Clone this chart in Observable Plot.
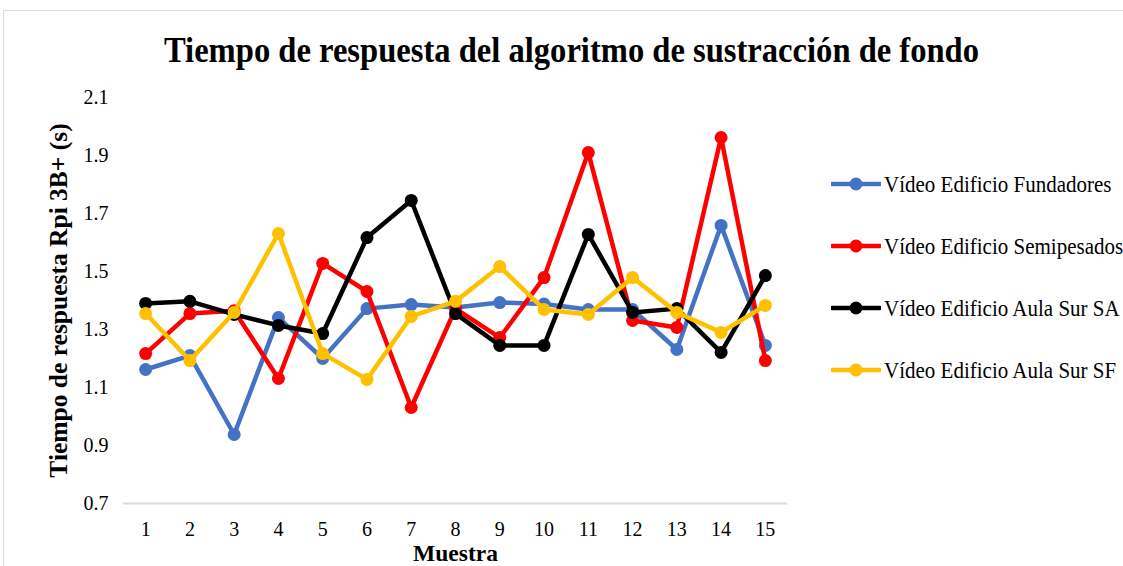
<!DOCTYPE html>
<html><head><meta charset="utf-8">
<script src="https://cdn.jsdelivr.net/npm/d3@7"></script>
<script src="https://cdn.jsdelivr.net/npm/@observablehq/plot@0.6"></script>
<style>
body{margin:0;background:#fff;font-family:"Liberation Serif","Times New Roman",serif;color:#000;}
#frame{position:absolute;left:3px;top:10px;width:1130px;height:570px;border:1px solid #d9d9d9;box-sizing:border-box;}
#title{position:absolute;left:0;width:1143px;top:31px;text-align:center;font-weight:bold;font-size:32.6px;line-height:38px;white-space:nowrap;transform:scaleY(1.12);transform-origin:50% 50%;}
#chart{position:absolute;left:0;top:80px;}
#legend{position:absolute;left:831px;top:170px;}
.item{display:flex;align-items:center;height:28px;margin-bottom:34px;font-size:21px;white-space:nowrap;}
.item span{display:inline-block;transform:scaleY(1.08);}
.item svg{margin-right:3px;}
g[aria-label="x-axis label"] text{font-weight:bold;font-size:23.5px;}
g[aria-label="y-axis label"] text{font-weight:bold;font-size:25.5px;}
</style>
</head><body>
<div id="frame"></div>
<div id="title">Tiempo de respuesta del algoritmo de sustracción de fondo</div>
<div id="chart"></div>
<div id="legend"></div>
<script>
const samples = [1,2,3,4,5,6,7,8,9,10,11,12,13,14,15];
const seriesNames = ["Vídeo Edificio Fundadores","Vídeo Edificio Semipesados","Vídeo Edificio Aula Sur SA","Vídeo Edificio Aula Sur SF"];
const seriesColors = ["#4472C4","#FF0000","#000000","#FFC000"];
const fundadores  = [1.162,1.21,0.938,1.341,1.200,1.372,1.386,1.376,1.393,1.388,1.369,1.369,1.231,1.659,1.245];
const semipesados = [1.217,1.355,1.365,1.131,1.528,1.431,1.031,1.372,1.272,1.479,1.910,1.331,1.307,1.962,1.193];
const aulaSurSA   = [1.390,1.397,1.352,1.314,1.286,1.617,1.745,1.355,1.245,1.245,1.628,1.359,1.372,1.221,1.486];
const aulaSurSF   = [1.355,1.193,1.359,1.631,1.217,1.128,1.345,1.397,1.517,1.369,1.352,1.479,1.359,1.290,1.383];
const yTicks = [0.7,0.9,1.1,1.3,1.5,1.7,1.9,2.1];
const xLabel = "Muestra";
const yLabel = "Tiempo de respuesta Rpi 3B+ (s)";

const seriesValues = [fundadores, semipesados, aulaSurSA, aulaSurSF];
const data = [];
seriesValues.forEach((vals, i) => vals.forEach((v, j) => data.push({series: seriesNames[i], sample: samples[j], value: v})));

const seriesMarks = seriesNames.flatMap(name => {
  const d = data.filter(r => r.series === name);
  return [
    Plot.line(d, {x: "sample", y: "value", stroke: "series", strokeWidth: 4.5, strokeLinejoin: "round"}),
    Plot.dot(d, {x: "sample", y: "value", fill: "series", r: 6.5})
  ];
});

const chart = Plot.plot({
  width: 830, height: 486,
  marginLeft: 123, marginRight: 43, marginTop: 17, marginBottom: 63,
  style: {fontFamily: "Liberation Serif, Times New Roman, serif", fontSize: "20px", color: "#000", background: "transparent", overflow: "visible"},
  x: {domain: [0.5, 15.5]},
  y: {domain: [0.7, 2.1]},
  color: {domain: seriesNames, range: seriesColors},
  marks: [
    Plot.ruleY([0.7], {stroke: "#d9d9d9", strokeWidth: 2}),
    Plot.axisX({ticks: samples, tickSize: 0, tickPadding: 18, tickFormat: d => String(d), label: xLabel, labelAnchor: "center", labelOffset: 57, labelArrow: "none"}),
    Plot.axisY({ticks: yTicks, tickSize: 0, tickPadding: 15, tickFormat: d => d.toFixed(1), label: yLabel, labelAnchor: "center", labelOffset: 75, labelArrow: "none"}),
    ...seriesMarks
  ]
});
document.getElementById("chart").appendChild(chart);

const legend = document.getElementById("legend");
seriesNames.forEach((name, i) => {
  const item = document.createElement("div");
  item.className = "item";
  item.innerHTML = `<svg width="50" height="16"><line x1="1" y1="8" x2="49" y2="8" stroke="${seriesColors[i]}" stroke-width="4.5" stroke-linecap="round"/><circle cx="25" cy="8" r="6.5" fill="${seriesColors[i]}"/></svg><span></span>`;
  item.querySelector("span").textContent = name;
  legend.appendChild(item);
});
</script>
</body></html>
